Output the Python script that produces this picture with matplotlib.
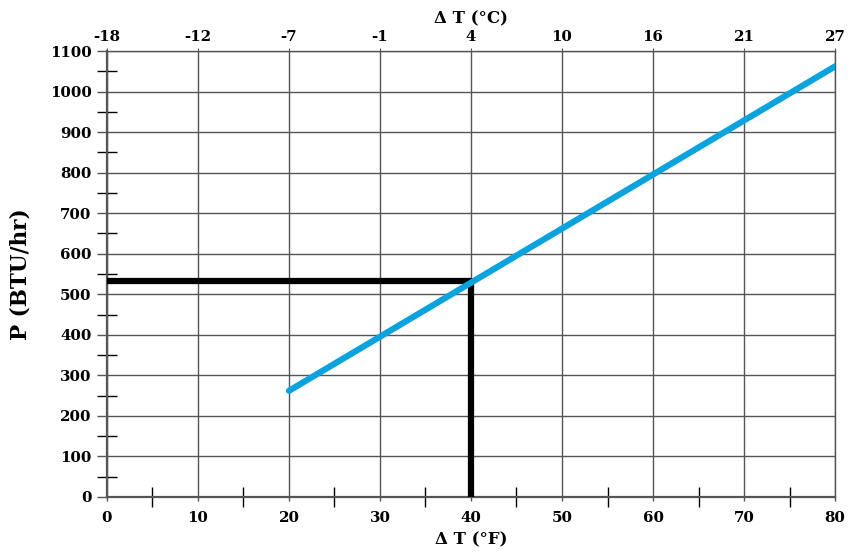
import numpy as np
import matplotlib.pyplot as plt
from matplotlib.ticker import MultipleLocator

# data
dt_f = [20, 80]
power = [262, 1062]
marker_x = [0, 40, 40]
marker_y = [533, 533, 0]

f_ticks = [0, 10, 20, 30, 40, 50, 60, 70, 80]
c_labels = ['-18', '-12', '-7', '-1', '4', '10', '16', '21', '27']

plt.rcParams['font.family'] = ['DejaVu Serif']
plt.rcParams['font.weight'] = 'bold'

fig = plt.figure(figsize=(8.58, 5.54), dpi=100)
ax = fig.add_axes([0.1247, 0.1029, 0.9732 - 0.1247, 0.9079 - 0.1029])

gridc = '#555555'
ax.set_xlim(0, 80)
ax.set_ylim(0, 1100)
ax.set_xticks(f_ticks)
ax.set_yticks(np.arange(0, 1101, 100))
ax.xaxis.set_minor_locator(MultipleLocator(5))
ax.yaxis.set_minor_locator(MultipleLocator(50))
ax.grid(True, which='major', color=gridc, lw=1.0)
ax.tick_params(which='major', width=1.0, color=gridc, labelsize=10.8)
ax.tick_params(axis='y', which='major', length=7, pad=4)
ax.tick_params(axis='x', which='major', length=3, pad=7)
ax.tick_params(which='minor', direction='inout', length=14, width=1.0, color='black')
ax.tick_params(axis='x', which='minor', top=False)
for s in ax.spines.values():
    s.set_color(gridc)
    s.set_linewidth(1.0)
ax.spines['bottom'].set_linewidth(1.6)
ax.spines['left'].set_linewidth(1.6)

ax.plot(marker_x, marker_y, color='black', lw=4.5, solid_capstyle='butt', zorder=3)
ax.plot(dt_f, power, color='#0aa3dd', lw=4.5, solid_capstyle='round', zorder=4)

ax.set_xlabel('Δ T (°F)', fontsize=12, fontweight='bold', labelpad=5)
ax.set_ylabel('P (BTU/hr)', fontsize=15.5, fontweight='bold', labelpad=13)

top = ax.twiny()
top.set_xlim(0, 80)
top.set_xticks(f_ticks)
top.set_xticklabels(c_labels)
top.tick_params(length=2, color=gridc, labelsize=10.8, pad=3)
for s in top.spines.values():
    s.set_visible(False)
top.set_xlabel('Δ T (°C)', fontsize=12, fontweight='bold', labelpad=5)

fig.savefig('out.png', dpi=100)
